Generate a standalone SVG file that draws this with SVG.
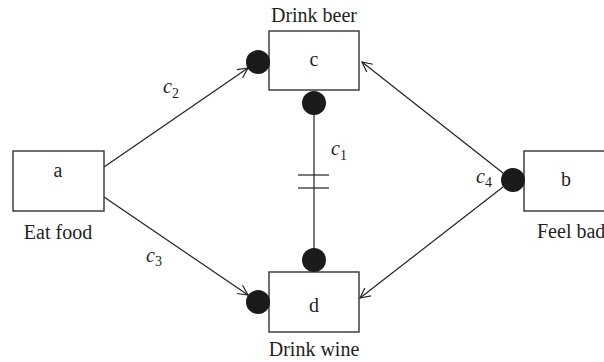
<svg xmlns="http://www.w3.org/2000/svg" width="604" height="362" viewBox="0 0 604 362">
<defs>
<style>
.box{fill:#fff;stroke:#333;stroke-width:1.4}
.dot{fill:#1b1b1b}
.ln{stroke:#222;stroke-width:1.2;fill:none}
.t{font-family:"Liberation Serif",serif;font-size:20px;fill:#231f20}
.lbl{font-family:"Liberation Serif",serif;font-size:20px;fill:#231f20;text-anchor:middle}
.it{font-family:"Liberation Serif",serif;font-size:20px;font-style:italic;fill:#231f20}
.sub{font-size:14px;font-style:normal}
</style>
<marker id="arr" viewBox="0 0 12 12" refX="11" refY="6" markerWidth="12" markerHeight="12" markerUnits="userSpaceOnUse" orient="auto">
<path d="M1,1 L11,6 L1,11" fill="none" stroke="#222" stroke-width="1.2"/>
</marker>
</defs>
<rect width="604" height="362" fill="#fff"/>
<g id="connectors">
<line class="ln" x1="104" y1="167" x2="248" y2="68" marker-end="url(#arr)"/>
<line class="ln" x1="104" y1="197" x2="248" y2="295" marker-end="url(#arr)"/>
<line class="ln" x1="503" y1="173" x2="362" y2="62" marker-end="url(#arr)"/>
<line class="ln" x1="503" y1="187" x2="360" y2="298" marker-end="url(#arr)"/>
<line class="ln" x1="314" y1="104" x2="314" y2="260"/>
<line class="ln" x1="298" y1="175" x2="329" y2="175"/>
<line class="ln" x1="298" y1="188" x2="329" y2="188"/>
<text class="it" x="163" y="93">c<tspan class="sub" dy="5">2</tspan></text>
<text class="it" x="331" y="155">c<tspan class="sub" dy="5">1</tspan></text>
<text class="it" x="146" y="262">c<tspan class="sub" dy="4">3</tspan></text>
<text class="it" x="476" y="183">c<tspan class="sub" dy="4">4</tspan></text>
</g>
<g id="node-a">
<rect class="box" x="13" y="151" width="91" height="60"/>
<text class="lbl" x="58" y="177">a</text>
<text class="lbl" x="58" y="239">Eat food</text>
</g>
<g id="node-c">
<rect class="box" x="269" y="31" width="90" height="59"/>
<text class="lbl" x="314" y="66">c</text>
<text class="lbl" x="314" y="22">Drink beer</text>
<circle class="dot" cx="258" cy="62" r="12"/>
<circle class="dot" cx="314" cy="103" r="12"/>
</g>
<g id="node-d">
<rect class="box" x="269" y="272" width="90" height="60"/>
<text class="lbl" x="314" y="312">d</text>
<text class="lbl" x="314" y="356">Drink wine</text>
<circle class="dot" cx="314" cy="260" r="12"/>
<circle class="dot" cx="258" cy="302" r="12"/>
</g>
<g id="node-b">
<rect class="box" x="524" y="151" width="100" height="60"/>
<text class="lbl" x="566" y="186">b</text>
<text class="t" x="537" y="238">Feel bad</text>
<circle class="dot" cx="513" cy="180" r="12"/>
</g>
</svg>
